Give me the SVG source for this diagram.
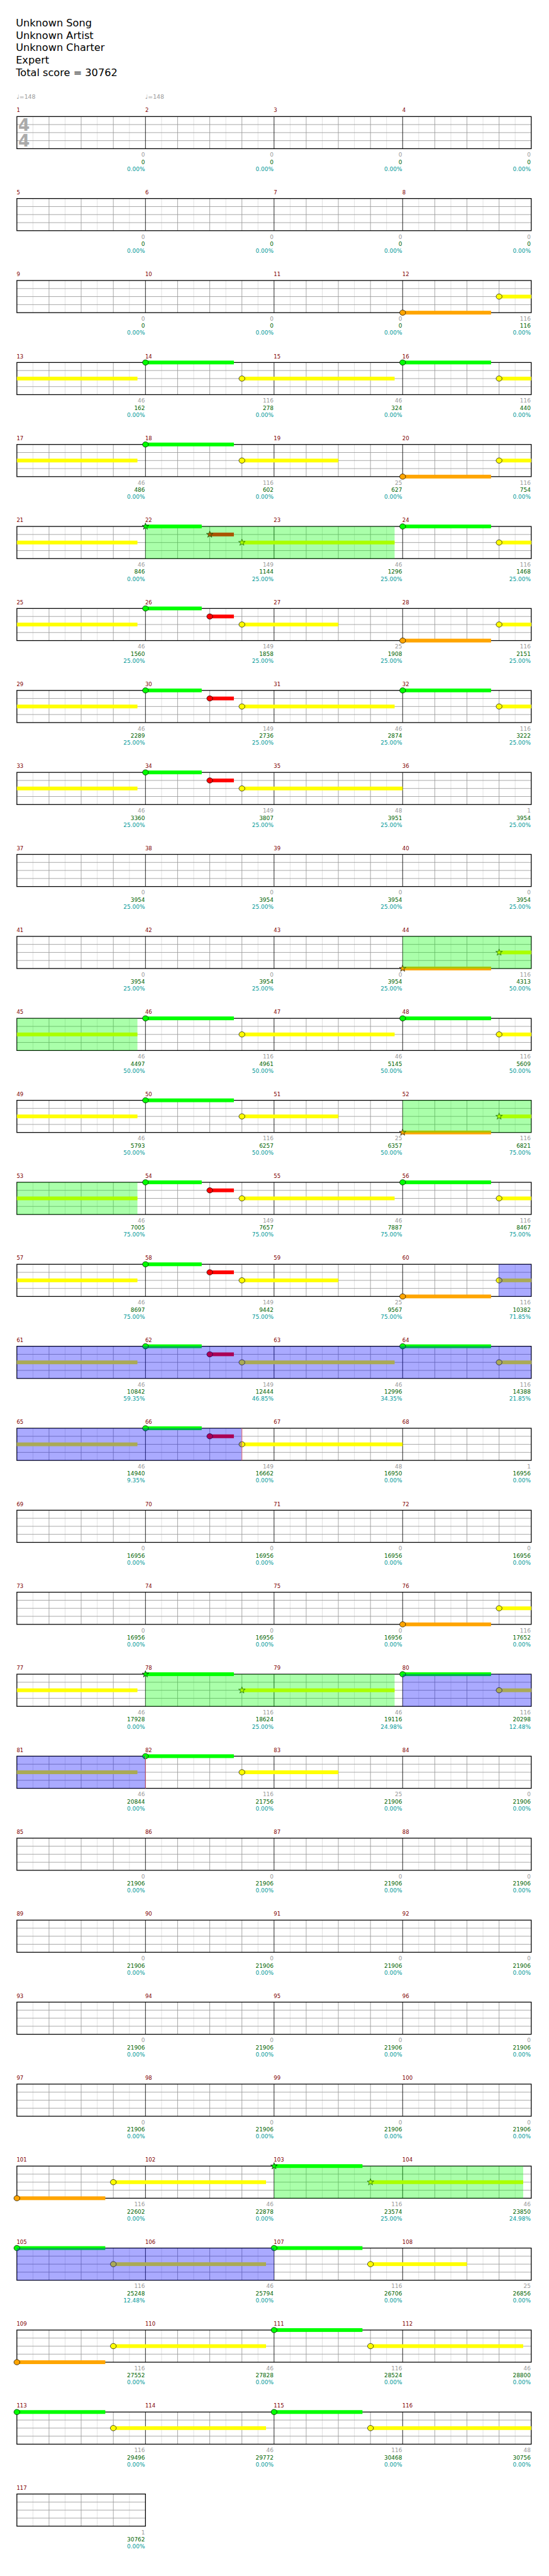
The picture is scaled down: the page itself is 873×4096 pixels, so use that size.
<svg xmlns="http://www.w3.org/2000/svg" width="873" height="4096" viewBox="0 0 873 4096">
<style>
text{font-family:'DejaVu Sans','Liberation Sans',sans-serif}
.hd{font-size:19px;fill:#000}
.bn text{font-size:10px;fill:#800000}
.tp text{font-size:11px;fill:#999}
.nm text{font-size:10.5px;text-anchor:end}
.a{fill:#999}.b{fill:#006400}.c{fill:#009999}
.ts{font-size:31px;font-weight:bold;fill:#aaa}
.g{fill:#00ff00}.r{fill:#ff0000}.y{fill:#ffff00}.o{fill:#ffa500}
.nt{stroke:#000;stroke-width:0.8}
.sp{fill:#00ff00;fill-opacity:0.333}
.od{fill:#0000ff;fill-opacity:0.333}
.ol{stroke:#ff7070;stroke-width:1;fill:none}
</style>
<defs>
<g id="mg">
<path d="M30 0V60M90 0V60M150 0V60M210 0V60" stroke="#ddd" fill="none"/>
<path d="M60 0V60M120 0V60M180 0V60M0 15H240M0 30H240M0 45H240" stroke="#999" fill="none"/>
</g>
<g id="rg">
<use href="#mg" x="31.5"/><use href="#mg" x="271.5"/><use href="#mg" x="511.5"/><use href="#mg" x="751.5"/>
<path d="M271.5 0V60M511.5 0V60M751.5 0V60" stroke="#000" fill="none"/>
<rect x="31.5" y="0" width="960" height="60" fill="none" stroke="#000" stroke-width="1.5"/>
</g>
<path id="st" d="M0,-6.5L1.53,-2.1L6.18,-2.01L2.47,0.8L3.82,5.26L0,2.6L-3.82,5.26L-2.47,0.8L-6.18,-2.01L-1.53,-2.1Z"/>
<ellipse id="nh" rx="5.5" ry="5"/>
</defs>
<rect width="873" height="4096" fill="#fff"/>
<g transform="scale(0.852)">
<g id="header">
<text class="hd" x="29.5" y="49.5">Unknown Song</text>
<text class="hd" x="29.5" y="72.5">Unknown Artist</text>
<text class="hd" x="29.5" y="95.5">Unknown Charter</text>
<text class="hd" x="29.5" y="118.5">Expert</text>
<text class="hd" x="29.5" y="141.5">Total score = 30762</text>
</g>

<g id="row-1" transform="translate(0,217.5)">
<use href="#rg"/>
<text class="ts" x="34" y="27">4</text><text class="ts" x="34" y="56.5">4</text>
<g class="tp"><text x="31" y="-33.5">♩=148</text><text x="271" y="-33.5">♩=148</text></g>
<g class="bn"><text x="31" y="-8">1</text><text x="271" y="-8">2</text><text x="511" y="-8">3</text><text x="751" y="-8">4</text></g>
<g class="nm">
<text class="a" x="270.5" y="75">0</text><text class="b" x="270.5" y="88.5">0</text><text class="c" x="270.5" y="101.5">0.00%</text>
<text class="a" x="510.5" y="75">0</text><text class="b" x="510.5" y="88.5">0</text><text class="c" x="510.5" y="101.5">0.00%</text>
<text class="a" x="750.5" y="75">0</text><text class="b" x="750.5" y="88.5">0</text><text class="c" x="750.5" y="101.5">0.00%</text>
<text class="a" x="990.5" y="75">0</text><text class="b" x="990.5" y="88.5">0</text><text class="c" x="990.5" y="101.5">0.00%</text>
</g>
</g>

<g id="row-2" transform="translate(0,370.5)">
<use href="#rg"/>
<g class="bn"><text x="31" y="-8">5</text><text x="271" y="-8">6</text><text x="511" y="-8">7</text><text x="751" y="-8">8</text></g>
<g class="nm">
<text class="a" x="270.5" y="75">0</text><text class="b" x="270.5" y="88.5">0</text><text class="c" x="270.5" y="101.5">0.00%</text>
<text class="a" x="510.5" y="75">0</text><text class="b" x="510.5" y="88.5">0</text><text class="c" x="510.5" y="101.5">0.00%</text>
<text class="a" x="750.5" y="75">0</text><text class="b" x="750.5" y="88.5">0</text><text class="c" x="750.5" y="101.5">0.00%</text>
<text class="a" x="990.5" y="75">0</text><text class="b" x="990.5" y="88.5">0</text><text class="c" x="990.5" y="101.5">0.00%</text>
</g>
</g>

<g id="row-3" transform="translate(0,523.5)">
<use href="#rg"/>
<rect class="o" x="751.5" y="56.5" width="165" height="7"/><use href="#nh" class="o nt" x="751.5" y="60"/>
<rect class="y" x="931.5" y="26.5" width="60" height="7"/><use href="#nh" class="y nt" x="931.5" y="30"/>
<g class="bn"><text x="31" y="-8">9</text><text x="271" y="-8">10</text><text x="511" y="-8">11</text><text x="751" y="-8">12</text></g>
<g class="nm">
<text class="a" x="270.5" y="75">0</text><text class="b" x="270.5" y="88.5">0</text><text class="c" x="270.5" y="101.5">0.00%</text>
<text class="a" x="510.5" y="75">0</text><text class="b" x="510.5" y="88.5">0</text><text class="c" x="510.5" y="101.5">0.00%</text>
<text class="a" x="750.5" y="75">0</text><text class="b" x="750.5" y="88.5">0</text><text class="c" x="750.5" y="101.5">0.00%</text>
<text class="a" x="990.5" y="75">116</text><text class="b" x="990.5" y="88.5">116</text><text class="c" x="990.5" y="101.5">0.00%</text>
</g>
</g>

<g id="row-4" transform="translate(0,676.5)">
<use href="#rg"/>
<rect class="y" x="31.5" y="26.5" width="225" height="7"/>
<rect class="g" x="271.5" y="-3.5" width="165" height="7"/><use href="#nh" class="g nt" x="271.5" y="0"/>
<rect class="y" x="451.5" y="26.5" width="285" height="7"/><use href="#nh" class="y nt" x="451.5" y="30"/>
<rect class="g" x="751.5" y="-3.5" width="165" height="7"/><use href="#nh" class="g nt" x="751.5" y="0"/>
<rect class="y" x="931.5" y="26.5" width="60" height="7"/><use href="#nh" class="y nt" x="931.5" y="30"/>
<g class="bn"><text x="31" y="-8">13</text><text x="271" y="-8">14</text><text x="511" y="-8">15</text><text x="751" y="-8">16</text></g>
<g class="nm">
<text class="a" x="270.5" y="75">46</text><text class="b" x="270.5" y="88.5">162</text><text class="c" x="270.5" y="101.5">0.00%</text>
<text class="a" x="510.5" y="75">116</text><text class="b" x="510.5" y="88.5">278</text><text class="c" x="510.5" y="101.5">0.00%</text>
<text class="a" x="750.5" y="75">46</text><text class="b" x="750.5" y="88.5">324</text><text class="c" x="750.5" y="101.5">0.00%</text>
<text class="a" x="990.5" y="75">116</text><text class="b" x="990.5" y="88.5">440</text><text class="c" x="990.5" y="101.5">0.00%</text>
</g>
</g>

<g id="row-5" transform="translate(0,829.5)">
<use href="#rg"/>
<rect class="y" x="31.5" y="26.5" width="225" height="7"/>
<rect class="g" x="271.5" y="-3.5" width="165" height="7"/><use href="#nh" class="g nt" x="271.5" y="0"/>
<rect class="y" x="451.5" y="26.5" width="180" height="7"/><use href="#nh" class="y nt" x="451.5" y="30"/>
<rect class="o" x="751.5" y="56.5" width="165" height="7"/><use href="#nh" class="o nt" x="751.5" y="60"/>
<rect class="y" x="931.5" y="26.5" width="60" height="7"/><use href="#nh" class="y nt" x="931.5" y="30"/>
<g class="bn"><text x="31" y="-8">17</text><text x="271" y="-8">18</text><text x="511" y="-8">19</text><text x="751" y="-8">20</text></g>
<g class="nm">
<text class="a" x="270.5" y="75">46</text><text class="b" x="270.5" y="88.5">486</text><text class="c" x="270.5" y="101.5">0.00%</text>
<text class="a" x="510.5" y="75">116</text><text class="b" x="510.5" y="88.5">602</text><text class="c" x="510.5" y="101.5">0.00%</text>
<text class="a" x="750.5" y="75">25</text><text class="b" x="750.5" y="88.5">627</text><text class="c" x="750.5" y="101.5">0.00%</text>
<text class="a" x="990.5" y="75">116</text><text class="b" x="990.5" y="88.5">754</text><text class="c" x="990.5" y="101.5">0.00%</text>
</g>
</g>

<g id="row-6" transform="translate(0,982.5)">
<use href="#rg"/>
<rect class="y" x="31.5" y="26.5" width="225" height="7"/>
<rect class="g" x="271.5" y="-3.5" width="105" height="7"/><use href="#st" class="g nt" x="271.5" y="0"/>
<rect class="r" x="391.5" y="11.5" width="45" height="7"/><use href="#st" class="r nt" x="391.5" y="15"/>
<rect class="y" x="451.5" y="26.5" width="285" height="7"/><use href="#st" class="y nt" x="451.5" y="30"/>
<rect class="g" x="751.5" y="-3.5" width="165" height="7"/><use href="#nh" class="g nt" x="751.5" y="0"/>
<rect class="y" x="931.5" y="26.5" width="60" height="7"/><use href="#nh" class="y nt" x="931.5" y="30"/>
<rect class="sp" x="271.5" y="0" width="465" height="60"/>
<g class="bn"><text x="31" y="-8">21</text><text x="271" y="-8">22</text><text x="511" y="-8">23</text><text x="751" y="-8">24</text></g>
<g class="nm">
<text class="a" x="270.5" y="75">46</text><text class="b" x="270.5" y="88.5">846</text><text class="c" x="270.5" y="101.5">0.00%</text>
<text class="a" x="510.5" y="75">149</text><text class="b" x="510.5" y="88.5">1144</text><text class="c" x="510.5" y="101.5">25.00%</text>
<text class="a" x="750.5" y="75">46</text><text class="b" x="750.5" y="88.5">1296</text><text class="c" x="750.5" y="101.5">25.00%</text>
<text class="a" x="990.5" y="75">116</text><text class="b" x="990.5" y="88.5">1468</text><text class="c" x="990.5" y="101.5">25.00%</text>
</g>
</g>

<g id="row-7" transform="translate(0,1135.5)">
<use href="#rg"/>
<rect class="y" x="31.5" y="26.5" width="225" height="7"/>
<rect class="g" x="271.5" y="-3.5" width="105" height="7"/><use href="#nh" class="g nt" x="271.5" y="0"/>
<rect class="r" x="391.5" y="11.5" width="45" height="7"/><use href="#nh" class="r nt" x="391.5" y="15"/>
<rect class="y" x="451.5" y="26.5" width="180" height="7"/><use href="#nh" class="y nt" x="451.5" y="30"/>
<rect class="o" x="751.5" y="56.5" width="165" height="7"/><use href="#nh" class="o nt" x="751.5" y="60"/>
<rect class="y" x="931.5" y="26.5" width="60" height="7"/><use href="#nh" class="y nt" x="931.5" y="30"/>
<g class="bn"><text x="31" y="-8">25</text><text x="271" y="-8">26</text><text x="511" y="-8">27</text><text x="751" y="-8">28</text></g>
<g class="nm">
<text class="a" x="270.5" y="75">46</text><text class="b" x="270.5" y="88.5">1560</text><text class="c" x="270.5" y="101.5">25.00%</text>
<text class="a" x="510.5" y="75">149</text><text class="b" x="510.5" y="88.5">1858</text><text class="c" x="510.5" y="101.5">25.00%</text>
<text class="a" x="750.5" y="75">25</text><text class="b" x="750.5" y="88.5">1908</text><text class="c" x="750.5" y="101.5">25.00%</text>
<text class="a" x="990.5" y="75">116</text><text class="b" x="990.5" y="88.5">2151</text><text class="c" x="990.5" y="101.5">25.00%</text>
</g>
</g>

<g id="row-8" transform="translate(0,1288.5)">
<use href="#rg"/>
<rect class="y" x="31.5" y="26.5" width="225" height="7"/>
<rect class="g" x="271.5" y="-3.5" width="105" height="7"/><use href="#nh" class="g nt" x="271.5" y="0"/>
<rect class="r" x="391.5" y="11.5" width="45" height="7"/><use href="#nh" class="r nt" x="391.5" y="15"/>
<rect class="y" x="451.5" y="26.5" width="285" height="7"/><use href="#nh" class="y nt" x="451.5" y="30"/>
<rect class="g" x="751.5" y="-3.5" width="165" height="7"/><use href="#nh" class="g nt" x="751.5" y="0"/>
<rect class="y" x="931.5" y="26.5" width="60" height="7"/><use href="#nh" class="y nt" x="931.5" y="30"/>
<g class="bn"><text x="31" y="-8">29</text><text x="271" y="-8">30</text><text x="511" y="-8">31</text><text x="751" y="-8">32</text></g>
<g class="nm">
<text class="a" x="270.5" y="75">46</text><text class="b" x="270.5" y="88.5">2289</text><text class="c" x="270.5" y="101.5">25.00%</text>
<text class="a" x="510.5" y="75">149</text><text class="b" x="510.5" y="88.5">2736</text><text class="c" x="510.5" y="101.5">25.00%</text>
<text class="a" x="750.5" y="75">46</text><text class="b" x="750.5" y="88.5">2874</text><text class="c" x="750.5" y="101.5">25.00%</text>
<text class="a" x="990.5" y="75">116</text><text class="b" x="990.5" y="88.5">3222</text><text class="c" x="990.5" y="101.5">25.00%</text>
</g>
</g>

<g id="row-9" transform="translate(0,1441.5)">
<use href="#rg"/>
<rect class="y" x="31.5" y="26.5" width="225" height="7"/>
<rect class="g" x="271.5" y="-3.5" width="105" height="7"/><use href="#nh" class="g nt" x="271.5" y="0"/>
<rect class="r" x="391.5" y="11.5" width="45" height="7"/><use href="#nh" class="r nt" x="391.5" y="15"/>
<rect class="y" x="451.5" y="26.5" width="300" height="7"/><use href="#nh" class="y nt" x="451.5" y="30"/>
<g class="bn"><text x="31" y="-8">33</text><text x="271" y="-8">34</text><text x="511" y="-8">35</text><text x="751" y="-8">36</text></g>
<g class="nm">
<text class="a" x="270.5" y="75">46</text><text class="b" x="270.5" y="88.5">3360</text><text class="c" x="270.5" y="101.5">25.00%</text>
<text class="a" x="510.5" y="75">149</text><text class="b" x="510.5" y="88.5">3807</text><text class="c" x="510.5" y="101.5">25.00%</text>
<text class="a" x="750.5" y="75">48</text><text class="b" x="750.5" y="88.5">3951</text><text class="c" x="750.5" y="101.5">25.00%</text>
<text class="a" x="990.5" y="75">1</text><text class="b" x="990.5" y="88.5">3954</text><text class="c" x="990.5" y="101.5">25.00%</text>
</g>
</g>

<g id="row-10" transform="translate(0,1594.5)">
<use href="#rg"/>
<g class="bn"><text x="31" y="-8">37</text><text x="271" y="-8">38</text><text x="511" y="-8">39</text><text x="751" y="-8">40</text></g>
<g class="nm">
<text class="a" x="270.5" y="75">0</text><text class="b" x="270.5" y="88.5">3954</text><text class="c" x="270.5" y="101.5">25.00%</text>
<text class="a" x="510.5" y="75">0</text><text class="b" x="510.5" y="88.5">3954</text><text class="c" x="510.5" y="101.5">25.00%</text>
<text class="a" x="750.5" y="75">0</text><text class="b" x="750.5" y="88.5">3954</text><text class="c" x="750.5" y="101.5">25.00%</text>
<text class="a" x="990.5" y="75">0</text><text class="b" x="990.5" y="88.5">3954</text><text class="c" x="990.5" y="101.5">25.00%</text>
</g>
</g>

<g id="row-11" transform="translate(0,1747.5)">
<use href="#rg"/>
<rect class="o" x="751.5" y="56.5" width="165" height="7"/><use href="#st" class="o nt" x="751.5" y="60"/>
<rect class="y" x="931.5" y="26.5" width="60" height="7"/><use href="#st" class="y nt" x="931.5" y="30"/>
<rect class="sp" x="751.5" y="0" width="240" height="60"/>
<g class="bn"><text x="31" y="-8">41</text><text x="271" y="-8">42</text><text x="511" y="-8">43</text><text x="751" y="-8">44</text></g>
<g class="nm">
<text class="a" x="270.5" y="75">0</text><text class="b" x="270.5" y="88.5">3954</text><text class="c" x="270.5" y="101.5">25.00%</text>
<text class="a" x="510.5" y="75">0</text><text class="b" x="510.5" y="88.5">3954</text><text class="c" x="510.5" y="101.5">25.00%</text>
<text class="a" x="750.5" y="75">0</text><text class="b" x="750.5" y="88.5">3954</text><text class="c" x="750.5" y="101.5">25.00%</text>
<text class="a" x="990.5" y="75">116</text><text class="b" x="990.5" y="88.5">4313</text><text class="c" x="990.5" y="101.5">50.00%</text>
</g>
</g>

<g id="row-12" transform="translate(0,1900.5)">
<use href="#rg"/>
<rect class="y" x="31.5" y="26.5" width="225" height="7"/>
<rect class="g" x="271.5" y="-3.5" width="165" height="7"/><use href="#nh" class="g nt" x="271.5" y="0"/>
<rect class="y" x="451.5" y="26.5" width="285" height="7"/><use href="#nh" class="y nt" x="451.5" y="30"/>
<rect class="g" x="751.5" y="-3.5" width="165" height="7"/><use href="#nh" class="g nt" x="751.5" y="0"/>
<rect class="y" x="931.5" y="26.5" width="60" height="7"/><use href="#nh" class="y nt" x="931.5" y="30"/>
<rect class="sp" x="31.5" y="0" width="225" height="60"/>
<g class="bn"><text x="31" y="-8">45</text><text x="271" y="-8">46</text><text x="511" y="-8">47</text><text x="751" y="-8">48</text></g>
<g class="nm">
<text class="a" x="270.5" y="75">46</text><text class="b" x="270.5" y="88.5">4497</text><text class="c" x="270.5" y="101.5">50.00%</text>
<text class="a" x="510.5" y="75">116</text><text class="b" x="510.5" y="88.5">4961</text><text class="c" x="510.5" y="101.5">50.00%</text>
<text class="a" x="750.5" y="75">46</text><text class="b" x="750.5" y="88.5">5145</text><text class="c" x="750.5" y="101.5">50.00%</text>
<text class="a" x="990.5" y="75">116</text><text class="b" x="990.5" y="88.5">5609</text><text class="c" x="990.5" y="101.5">50.00%</text>
</g>
</g>

<g id="row-13" transform="translate(0,2053.5)">
<use href="#rg"/>
<rect class="y" x="31.5" y="26.5" width="225" height="7"/>
<rect class="g" x="271.5" y="-3.5" width="165" height="7"/><use href="#nh" class="g nt" x="271.5" y="0"/>
<rect class="y" x="451.5" y="26.5" width="180" height="7"/><use href="#nh" class="y nt" x="451.5" y="30"/>
<rect class="o" x="751.5" y="56.5" width="165" height="7"/><use href="#st" class="o nt" x="751.5" y="60"/>
<rect class="y" x="931.5" y="26.5" width="60" height="7"/><use href="#st" class="y nt" x="931.5" y="30"/>
<rect class="sp" x="751.5" y="0" width="240" height="60"/>
<g class="bn"><text x="31" y="-8">49</text><text x="271" y="-8">50</text><text x="511" y="-8">51</text><text x="751" y="-8">52</text></g>
<g class="nm">
<text class="a" x="270.5" y="75">46</text><text class="b" x="270.5" y="88.5">5793</text><text class="c" x="270.5" y="101.5">50.00%</text>
<text class="a" x="510.5" y="75">116</text><text class="b" x="510.5" y="88.5">6257</text><text class="c" x="510.5" y="101.5">50.00%</text>
<text class="a" x="750.5" y="75">25</text><text class="b" x="750.5" y="88.5">6357</text><text class="c" x="750.5" y="101.5">50.00%</text>
<text class="a" x="990.5" y="75">116</text><text class="b" x="990.5" y="88.5">6821</text><text class="c" x="990.5" y="101.5">75.00%</text>
</g>
</g>

<g id="row-14" transform="translate(0,2206.5)">
<use href="#rg"/>
<rect class="y" x="31.5" y="26.5" width="225" height="7"/>
<rect class="g" x="271.5" y="-3.5" width="105" height="7"/><use href="#nh" class="g nt" x="271.5" y="0"/>
<rect class="r" x="391.5" y="11.5" width="45" height="7"/><use href="#nh" class="r nt" x="391.5" y="15"/>
<rect class="y" x="451.5" y="26.5" width="285" height="7"/><use href="#nh" class="y nt" x="451.5" y="30"/>
<rect class="g" x="751.5" y="-3.5" width="165" height="7"/><use href="#nh" class="g nt" x="751.5" y="0"/>
<rect class="y" x="931.5" y="26.5" width="60" height="7"/><use href="#nh" class="y nt" x="931.5" y="30"/>
<rect class="sp" x="31.5" y="0" width="225" height="60"/>
<g class="bn"><text x="31" y="-8">53</text><text x="271" y="-8">54</text><text x="511" y="-8">55</text><text x="751" y="-8">56</text></g>
<g class="nm">
<text class="a" x="270.5" y="75">46</text><text class="b" x="270.5" y="88.5">7005</text><text class="c" x="270.5" y="101.5">75.00%</text>
<text class="a" x="510.5" y="75">149</text><text class="b" x="510.5" y="88.5">7657</text><text class="c" x="510.5" y="101.5">75.00%</text>
<text class="a" x="750.5" y="75">46</text><text class="b" x="750.5" y="88.5">7887</text><text class="c" x="750.5" y="101.5">75.00%</text>
<text class="a" x="990.5" y="75">116</text><text class="b" x="990.5" y="88.5">8467</text><text class="c" x="990.5" y="101.5">75.00%</text>
</g>
</g>

<g id="row-15" transform="translate(0,2359.5)">
<use href="#rg"/>
<rect class="y" x="31.5" y="26.5" width="225" height="7"/>
<rect class="g" x="271.5" y="-3.5" width="105" height="7"/><use href="#nh" class="g nt" x="271.5" y="0"/>
<rect class="r" x="391.5" y="11.5" width="45" height="7"/><use href="#nh" class="r nt" x="391.5" y="15"/>
<rect class="y" x="451.5" y="26.5" width="180" height="7"/><use href="#nh" class="y nt" x="451.5" y="30"/>
<rect class="o" x="751.5" y="56.5" width="165" height="7"/><use href="#nh" class="o nt" x="751.5" y="60"/>
<rect class="y" x="931.5" y="26.5" width="60" height="7"/><use href="#nh" class="y nt" x="931.5" y="30"/>
<rect class="od" x="930.5" y="0" width="61" height="60"/>
<g class="bn"><text x="31" y="-8">57</text><text x="271" y="-8">58</text><text x="511" y="-8">59</text><text x="751" y="-8">60</text></g>
<g class="nm">
<text class="a" x="270.5" y="75">46</text><text class="b" x="270.5" y="88.5">8697</text><text class="c" x="270.5" y="101.5">75.00%</text>
<text class="a" x="510.5" y="75">149</text><text class="b" x="510.5" y="88.5">9442</text><text class="c" x="510.5" y="101.5">75.00%</text>
<text class="a" x="750.5" y="75">25</text><text class="b" x="750.5" y="88.5">9567</text><text class="c" x="750.5" y="101.5">75.00%</text>
<text class="a" x="990.5" y="75">116</text><text class="b" x="990.5" y="88.5">10382</text><text class="c" x="990.5" y="101.5">71.85%</text>
</g>
</g>

<g id="row-16" transform="translate(0,2512.5)">
<use href="#rg"/>
<rect class="y" x="31.5" y="26.5" width="225" height="7"/>
<rect class="g" x="271.5" y="-3.5" width="105" height="7"/><use href="#nh" class="g nt" x="271.5" y="0"/>
<rect class="r" x="391.5" y="11.5" width="45" height="7"/><use href="#nh" class="r nt" x="391.5" y="15"/>
<rect class="y" x="451.5" y="26.5" width="285" height="7"/><use href="#nh" class="y nt" x="451.5" y="30"/>
<rect class="g" x="751.5" y="-3.5" width="165" height="7"/><use href="#nh" class="g nt" x="751.5" y="0"/>
<rect class="y" x="931.5" y="26.5" width="60" height="7"/><use href="#nh" class="y nt" x="931.5" y="30"/>
<rect class="od" x="31.5" y="0" width="960" height="60"/>
<g class="bn"><text x="31" y="-8">61</text><text x="271" y="-8">62</text><text x="511" y="-8">63</text><text x="751" y="-8">64</text></g>
<g class="nm">
<text class="a" x="270.5" y="75">46</text><text class="b" x="270.5" y="88.5">10842</text><text class="c" x="270.5" y="101.5">59.35%</text>
<text class="a" x="510.5" y="75">149</text><text class="b" x="510.5" y="88.5">12444</text><text class="c" x="510.5" y="101.5">46.85%</text>
<text class="a" x="750.5" y="75">46</text><text class="b" x="750.5" y="88.5">12996</text><text class="c" x="750.5" y="101.5">34.35%</text>
<text class="a" x="990.5" y="75">116</text><text class="b" x="990.5" y="88.5">14388</text><text class="c" x="990.5" y="101.5">21.85%</text>
</g>
</g>

<g id="row-17" transform="translate(0,2665.5)">
<use href="#rg"/>
<rect class="y" x="31.5" y="26.5" width="225" height="7"/>
<rect class="g" x="271.5" y="-3.5" width="105" height="7"/><use href="#nh" class="g nt" x="271.5" y="0"/>
<rect class="r" x="391.5" y="11.5" width="45" height="7"/><use href="#nh" class="r nt" x="391.5" y="15"/>
<rect class="y" x="451.5" y="26.5" width="300" height="7"/><use href="#nh" class="y nt" x="451.5" y="30"/>
<rect class="od" x="31.5" y="0" width="420" height="60"/>
<path class="ol" d="M451.5 0V60"/>
<g class="bn"><text x="31" y="-8">65</text><text x="271" y="-8">66</text><text x="511" y="-8">67</text><text x="751" y="-8">68</text></g>
<g class="nm">
<text class="a" x="270.5" y="75">46</text><text class="b" x="270.5" y="88.5">14940</text><text class="c" x="270.5" y="101.5">9.35%</text>
<text class="a" x="510.5" y="75">149</text><text class="b" x="510.5" y="88.5">16662</text><text class="c" x="510.5" y="101.5">0.00%</text>
<text class="a" x="750.5" y="75">48</text><text class="b" x="750.5" y="88.5">16950</text><text class="c" x="750.5" y="101.5">0.00%</text>
<text class="a" x="990.5" y="75">1</text><text class="b" x="990.5" y="88.5">16956</text><text class="c" x="990.5" y="101.5">0.00%</text>
</g>
</g>

<g id="row-18" transform="translate(0,2818.5)">
<use href="#rg"/>
<g class="bn"><text x="31" y="-8">69</text><text x="271" y="-8">70</text><text x="511" y="-8">71</text><text x="751" y="-8">72</text></g>
<g class="nm">
<text class="a" x="270.5" y="75">0</text><text class="b" x="270.5" y="88.5">16956</text><text class="c" x="270.5" y="101.5">0.00%</text>
<text class="a" x="510.5" y="75">0</text><text class="b" x="510.5" y="88.5">16956</text><text class="c" x="510.5" y="101.5">0.00%</text>
<text class="a" x="750.5" y="75">0</text><text class="b" x="750.5" y="88.5">16956</text><text class="c" x="750.5" y="101.5">0.00%</text>
<text class="a" x="990.5" y="75">0</text><text class="b" x="990.5" y="88.5">16956</text><text class="c" x="990.5" y="101.5">0.00%</text>
</g>
</g>

<g id="row-19" transform="translate(0,2971.5)">
<use href="#rg"/>
<rect class="o" x="751.5" y="56.5" width="165" height="7"/><use href="#nh" class="o nt" x="751.5" y="60"/>
<rect class="y" x="931.5" y="26.5" width="60" height="7"/><use href="#nh" class="y nt" x="931.5" y="30"/>
<g class="bn"><text x="31" y="-8">73</text><text x="271" y="-8">74</text><text x="511" y="-8">75</text><text x="751" y="-8">76</text></g>
<g class="nm">
<text class="a" x="270.5" y="75">0</text><text class="b" x="270.5" y="88.5">16956</text><text class="c" x="270.5" y="101.5">0.00%</text>
<text class="a" x="510.5" y="75">0</text><text class="b" x="510.5" y="88.5">16956</text><text class="c" x="510.5" y="101.5">0.00%</text>
<text class="a" x="750.5" y="75">0</text><text class="b" x="750.5" y="88.5">16956</text><text class="c" x="750.5" y="101.5">0.00%</text>
<text class="a" x="990.5" y="75">116</text><text class="b" x="990.5" y="88.5">17652</text><text class="c" x="990.5" y="101.5">0.00%</text>
</g>
</g>

<g id="row-20" transform="translate(0,3124.5)">
<use href="#rg"/>
<rect class="y" x="31.5" y="26.5" width="225" height="7"/>
<rect class="g" x="271.5" y="-3.5" width="165" height="7"/><use href="#st" class="g nt" x="271.5" y="0"/>
<rect class="y" x="451.5" y="26.5" width="285" height="7"/><use href="#st" class="y nt" x="451.5" y="30"/>
<rect class="g" x="751.5" y="-3.5" width="165" height="7"/><use href="#nh" class="g nt" x="751.5" y="0"/>
<rect class="y" x="931.5" y="26.5" width="60" height="7"/><use href="#nh" class="y nt" x="931.5" y="30"/>
<rect class="sp" x="271.5" y="0" width="465" height="60"/>
<rect class="od" x="751.5" y="0" width="240" height="60"/>
<g class="bn"><text x="31" y="-8">77</text><text x="271" y="-8">78</text><text x="511" y="-8">79</text><text x="751" y="-8">80</text></g>
<g class="nm">
<text class="a" x="270.5" y="75">46</text><text class="b" x="270.5" y="88.5">17928</text><text class="c" x="270.5" y="101.5">0.00%</text>
<text class="a" x="510.5" y="75">116</text><text class="b" x="510.5" y="88.5">18624</text><text class="c" x="510.5" y="101.5">25.00%</text>
<text class="a" x="750.5" y="75">46</text><text class="b" x="750.5" y="88.5">19116</text><text class="c" x="750.5" y="101.5">24.98%</text>
<text class="a" x="990.5" y="75">116</text><text class="b" x="990.5" y="88.5">20298</text><text class="c" x="990.5" y="101.5">12.48%</text>
</g>
</g>

<g id="row-21" transform="translate(0,3277.5)">
<use href="#rg"/>
<rect class="y" x="31.5" y="26.5" width="225" height="7"/>
<rect class="g" x="271.5" y="-3.5" width="165" height="7"/><use href="#nh" class="g nt" x="271.5" y="0"/>
<rect class="y" x="451.5" y="26.5" width="180" height="7"/><use href="#nh" class="y nt" x="451.5" y="30"/>
<rect class="od" x="31.5" y="0" width="240" height="60"/>
<path class="ol" d="M271.5 0V60"/>
<g class="bn"><text x="31" y="-8">81</text><text x="271" y="-8">82</text><text x="511" y="-8">83</text><text x="751" y="-8">84</text></g>
<g class="nm">
<text class="a" x="270.5" y="75">46</text><text class="b" x="270.5" y="88.5">20844</text><text class="c" x="270.5" y="101.5">0.00%</text>
<text class="a" x="510.5" y="75">116</text><text class="b" x="510.5" y="88.5">21756</text><text class="c" x="510.5" y="101.5">0.00%</text>
<text class="a" x="750.5" y="75">25</text><text class="b" x="750.5" y="88.5">21906</text><text class="c" x="750.5" y="101.5">0.00%</text>
<text class="a" x="990.5" y="75">0</text><text class="b" x="990.5" y="88.5">21906</text><text class="c" x="990.5" y="101.5">0.00%</text>
</g>
</g>

<g id="row-22" transform="translate(0,3430.5)">
<use href="#rg"/>
<g class="bn"><text x="31" y="-8">85</text><text x="271" y="-8">86</text><text x="511" y="-8">87</text><text x="751" y="-8">88</text></g>
<g class="nm">
<text class="a" x="270.5" y="75">0</text><text class="b" x="270.5" y="88.5">21906</text><text class="c" x="270.5" y="101.5">0.00%</text>
<text class="a" x="510.5" y="75">0</text><text class="b" x="510.5" y="88.5">21906</text><text class="c" x="510.5" y="101.5">0.00%</text>
<text class="a" x="750.5" y="75">0</text><text class="b" x="750.5" y="88.5">21906</text><text class="c" x="750.5" y="101.5">0.00%</text>
<text class="a" x="990.5" y="75">0</text><text class="b" x="990.5" y="88.5">21906</text><text class="c" x="990.5" y="101.5">0.00%</text>
</g>
</g>

<g id="row-23" transform="translate(0,3583.5)">
<use href="#rg"/>
<g class="bn"><text x="31" y="-8">89</text><text x="271" y="-8">90</text><text x="511" y="-8">91</text><text x="751" y="-8">92</text></g>
<g class="nm">
<text class="a" x="270.5" y="75">0</text><text class="b" x="270.5" y="88.5">21906</text><text class="c" x="270.5" y="101.5">0.00%</text>
<text class="a" x="510.5" y="75">0</text><text class="b" x="510.5" y="88.5">21906</text><text class="c" x="510.5" y="101.5">0.00%</text>
<text class="a" x="750.5" y="75">0</text><text class="b" x="750.5" y="88.5">21906</text><text class="c" x="750.5" y="101.5">0.00%</text>
<text class="a" x="990.5" y="75">0</text><text class="b" x="990.5" y="88.5">21906</text><text class="c" x="990.5" y="101.5">0.00%</text>
</g>
</g>

<g id="row-24" transform="translate(0,3736.5)">
<use href="#rg"/>
<g class="bn"><text x="31" y="-8">93</text><text x="271" y="-8">94</text><text x="511" y="-8">95</text><text x="751" y="-8">96</text></g>
<g class="nm">
<text class="a" x="270.5" y="75">0</text><text class="b" x="270.5" y="88.5">21906</text><text class="c" x="270.5" y="101.5">0.00%</text>
<text class="a" x="510.5" y="75">0</text><text class="b" x="510.5" y="88.5">21906</text><text class="c" x="510.5" y="101.5">0.00%</text>
<text class="a" x="750.5" y="75">0</text><text class="b" x="750.5" y="88.5">21906</text><text class="c" x="750.5" y="101.5">0.00%</text>
<text class="a" x="990.5" y="75">0</text><text class="b" x="990.5" y="88.5">21906</text><text class="c" x="990.5" y="101.5">0.00%</text>
</g>
</g>

<g id="row-25" transform="translate(0,3889.5)">
<use href="#rg"/>
<g class="bn"><text x="31" y="-8">97</text><text x="271" y="-8">98</text><text x="511" y="-8">99</text><text x="751" y="-8">100</text></g>
<g class="nm">
<text class="a" x="270.5" y="75">0</text><text class="b" x="270.5" y="88.5">21906</text><text class="c" x="270.5" y="101.5">0.00%</text>
<text class="a" x="510.5" y="75">0</text><text class="b" x="510.5" y="88.5">21906</text><text class="c" x="510.5" y="101.5">0.00%</text>
<text class="a" x="750.5" y="75">0</text><text class="b" x="750.5" y="88.5">21906</text><text class="c" x="750.5" y="101.5">0.00%</text>
<text class="a" x="990.5" y="75">0</text><text class="b" x="990.5" y="88.5">21906</text><text class="c" x="990.5" y="101.5">0.00%</text>
</g>
</g>

<g id="row-26" transform="translate(0,4042.5)">
<use href="#rg"/>
<rect class="o" x="31.5" y="56.5" width="165" height="7"/><use href="#nh" class="o nt" x="31.5" y="60"/>
<rect class="y" x="211.5" y="26.5" width="285" height="7"/><use href="#nh" class="y nt" x="211.5" y="30"/>
<rect class="g" x="511.5" y="-3.5" width="165" height="7"/><use href="#st" class="g nt" x="511.5" y="0"/>
<rect class="y" x="691.5" y="26.5" width="285" height="7"/><use href="#st" class="y nt" x="691.5" y="30"/>
<rect class="sp" x="511.5" y="0" width="465" height="60"/>
<g class="bn"><text x="31" y="-8">101</text><text x="271" y="-8">102</text><text x="511" y="-8">103</text><text x="751" y="-8">104</text></g>
<g class="nm">
<text class="a" x="270.5" y="75">116</text><text class="b" x="270.5" y="88.5">22602</text><text class="c" x="270.5" y="101.5">0.00%</text>
<text class="a" x="510.5" y="75">46</text><text class="b" x="510.5" y="88.5">22878</text><text class="c" x="510.5" y="101.5">0.00%</text>
<text class="a" x="750.5" y="75">116</text><text class="b" x="750.5" y="88.5">23574</text><text class="c" x="750.5" y="101.5">25.00%</text>
<text class="a" x="990.5" y="75">46</text><text class="b" x="990.5" y="88.5">23850</text><text class="c" x="990.5" y="101.5">24.98%</text>
</g>
</g>

<g id="row-27" transform="translate(0,4195.5)">
<use href="#rg"/>
<rect class="g" x="31.5" y="-3.5" width="165" height="7"/><use href="#nh" class="g nt" x="31.5" y="0"/>
<rect class="y" x="211.5" y="26.5" width="285" height="7"/><use href="#nh" class="y nt" x="211.5" y="30"/>
<rect class="g" x="511.5" y="-3.5" width="165" height="7"/><use href="#nh" class="g nt" x="511.5" y="0"/>
<rect class="y" x="691.5" y="26.5" width="180" height="7"/><use href="#nh" class="y nt" x="691.5" y="30"/>
<rect class="od" x="31.5" y="0" width="480" height="60"/>
<g class="bn"><text x="31" y="-8">105</text><text x="271" y="-8">106</text><text x="511" y="-8">107</text><text x="751" y="-8">108</text></g>
<g class="nm">
<text class="a" x="270.5" y="75">116</text><text class="b" x="270.5" y="88.5">25248</text><text class="c" x="270.5" y="101.5">12.48%</text>
<text class="a" x="510.5" y="75">46</text><text class="b" x="510.5" y="88.5">25794</text><text class="c" x="510.5" y="101.5">0.00%</text>
<text class="a" x="750.5" y="75">116</text><text class="b" x="750.5" y="88.5">26706</text><text class="c" x="750.5" y="101.5">0.00%</text>
<text class="a" x="990.5" y="75">25</text><text class="b" x="990.5" y="88.5">26856</text><text class="c" x="990.5" y="101.5">0.00%</text>
</g>
</g>

<g id="row-28" transform="translate(0,4348.5)">
<use href="#rg"/>
<rect class="o" x="31.5" y="56.5" width="165" height="7"/><use href="#nh" class="o nt" x="31.5" y="60"/>
<rect class="y" x="211.5" y="26.5" width="285" height="7"/><use href="#nh" class="y nt" x="211.5" y="30"/>
<rect class="g" x="511.5" y="-3.5" width="165" height="7"/><use href="#nh" class="g nt" x="511.5" y="0"/>
<rect class="y" x="691.5" y="26.5" width="285" height="7"/><use href="#nh" class="y nt" x="691.5" y="30"/>
<g class="bn"><text x="31" y="-8">109</text><text x="271" y="-8">110</text><text x="511" y="-8">111</text><text x="751" y="-8">112</text></g>
<g class="nm">
<text class="a" x="270.5" y="75">116</text><text class="b" x="270.5" y="88.5">27552</text><text class="c" x="270.5" y="101.5">0.00%</text>
<text class="a" x="510.5" y="75">46</text><text class="b" x="510.5" y="88.5">27828</text><text class="c" x="510.5" y="101.5">0.00%</text>
<text class="a" x="750.5" y="75">116</text><text class="b" x="750.5" y="88.5">28524</text><text class="c" x="750.5" y="101.5">0.00%</text>
<text class="a" x="990.5" y="75">46</text><text class="b" x="990.5" y="88.5">28800</text><text class="c" x="990.5" y="101.5">0.00%</text>
</g>
</g>

<g id="row-29" transform="translate(0,4501.5)">
<use href="#rg"/>
<rect class="g" x="31.5" y="-3.5" width="165" height="7"/><use href="#nh" class="g nt" x="31.5" y="0"/>
<rect class="y" x="211.5" y="26.5" width="285" height="7"/><use href="#nh" class="y nt" x="211.5" y="30"/>
<rect class="g" x="511.5" y="-3.5" width="165" height="7"/><use href="#nh" class="g nt" x="511.5" y="0"/>
<rect class="y" x="691.5" y="26.5" width="300" height="7"/><use href="#nh" class="y nt" x="691.5" y="30"/>
<g class="bn"><text x="31" y="-8">113</text><text x="271" y="-8">114</text><text x="511" y="-8">115</text><text x="751" y="-8">116</text></g>
<g class="nm">
<text class="a" x="270.5" y="75">116</text><text class="b" x="270.5" y="88.5">29496</text><text class="c" x="270.5" y="101.5">0.00%</text>
<text class="a" x="510.5" y="75">46</text><text class="b" x="510.5" y="88.5">29772</text><text class="c" x="510.5" y="101.5">0.00%</text>
<text class="a" x="750.5" y="75">116</text><text class="b" x="750.5" y="88.5">30468</text><text class="c" x="750.5" y="101.5">0.00%</text>
<text class="a" x="990.5" y="75">48</text><text class="b" x="990.5" y="88.5">30756</text><text class="c" x="990.5" y="101.5">0.00%</text>
</g>
</g>

<g id="row-30" transform="translate(0,4654.5)">
<use href="#mg" x="31.5"/>
<rect x="31.5" y="0" width="240" height="60" fill="none" stroke="#000" stroke-width="1.5"/>
<g class="bn"><text x="31" y="-8">117</text></g>
<g class="nm">
<text class="a" x="270.5" y="75">1</text><text class="b" x="270.5" y="88.5">30762</text><text class="c" x="270.5" y="101.5">0.00%</text>
</g>
</g>
</g>
</svg>
